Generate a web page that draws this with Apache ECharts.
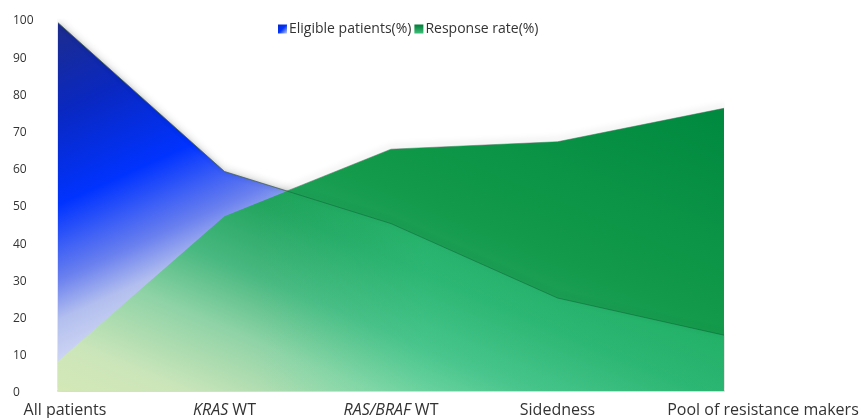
<!DOCTYPE html>
<html>
<head>
<meta charset="utf-8">
<script src="https://cdn.jsdelivr.net/npm/echarts@6/dist/echarts.min.js"></script>
<style>
  html, body { margin: 0; padding: 0; background: #fff; }
  #chart { width: 864px; height: 418px; }
</style>
</head>
<body>
<div id="chart"></div>
<script>
// Patient selection steps along the x axis
const categories = ['All patients', 'KRAS WT', 'RAS/BRAF WT', 'Sidedness', 'Pool of resistance makers'];
// Share of patients still eligible at each step (%)
const eligiblePatients = [99, 59, 45, 25, 15];
// Response rate within the selected group (%)
const responseRate = [8, 47, 65, 67, 76];
// Y axis ticks
const yMin = 0, yMax = 100, yStep = 10;

const FONT = '"Open Sans", Lato, sans-serif';

// Blue area: navy at the top, bright blue in the middle, fading to lavender
const blueFill = new echarts.graphic.LinearGradient(0, 0, 0.25, 1, [
  { offset: 0.00, color: '#1d2c8c' },
  { offset: 0.20, color: '#0a28c0' },
  { offset: 0.41, color: '#0033ff' },
  { offset: 0.58, color: '#6a80ee' },
  { offset: 0.67, color: '#b2beee' },
  { offset: 0.82, color: '#dde3f7' },
  { offset: 1.00, color: '#eef1fb' }
]);
// Green area: pale at the lower left, deep green towards the upper right
const greenFill = new echarts.graphic.LinearGradient(0, 1, 0.36, -1, [
  { offset: 0.00, color: '#d4e8b6' },
  { offset: 0.08, color: '#cbe5ba' },
  { offset: 0.20, color: '#8fd3a6' },
  { offset: 0.30, color: '#48b880' },
  { offset: 0.41, color: '#22a45e' },
  { offset: 0.52, color: '#139a4a' },
  { offset: 0.65, color: '#0b9446' },
  { offset: 0.83, color: '#008a40' },
  { offset: 1.00, color: '#007f3a' }
]);
// Light teal tint laid over everything below the eligible-patients line
const tintFill = new echarts.graphic.LinearGradient(0, 0, 1, 0, [
  { offset: 0.00, color: 'rgba(70,230,170,0)' },
  { offset: 0.30, color: 'rgba(70,230,170,0)' },
  { offset: 0.55, color: 'rgba(70,230,170,0.28)' },
  { offset: 1.00, color: 'rgba(70,230,170,0.28)' }
]);
const blueIcon = new echarts.graphic.LinearGradient(0, 0, 1, 1, [
  { offset: 0, color: '#0a27c4' }, { offset: 0.5, color: '#0033ff' }, { offset: 1, color: '#c8d0f4' }
]);
const greenIcon = new echarts.graphic.LinearGradient(0, 0, 0, 1, [
  { offset: 0, color: '#007a36' }, { offset: 1, color: '#3cc07a' }
]);

// Axis labels: gene names are set in italics
const italicNames = { 'KRAS WT': '{i|KRAS} WT', 'RAS/BRAF WT': '{i|RAS/BRAF} WT' };
const xData = categories.map((c, i) => {
  const item = { value: c };
  if (i === 0) item.textStyle = { padding: [0, 0, 0, 14] };
  if (i === categories.length - 1) item.textStyle = { padding: [0, 0, 0, 78] };
  return item;
});

const edgeShadow = {
  width: 1,
  color: 'rgba(120,120,120,0.6)',
  shadowBlur: 7,
  shadowColor: 'rgba(0,0,0,0.55)',
  shadowOffsetX: 1,
  shadowOffsetY: -2
};

const chart = echarts.init(document.getElementById('chart'), null, { renderer: 'canvas' });
chart.setOption({
  animation: false,
  backgroundColor: '#fff',
  textStyle: { fontFamily: FONT },
  legend: {
    top: 17,
    left: 273,
    icon: 'rect',
    itemWidth: 9,
    itemHeight: 9,
    itemGap: 3,
    textStyle: { fontFamily: FONT, fontSize: 14, color: '#333', padding: [0, 0, 0, -3] },
    data: [
      { name: 'Eligible patients(%)', itemStyle: { color: blueIcon } },
      { name: 'Response rate(%)', itemStyle: { color: greenIcon } }
    ]
  },
  grid: { left: 58, right: 140, top: 19, bottom: 26 },
  xAxis: {
    type: 'category',
    boundaryGap: false,
    data: xData,
    axisLine: { show: true, lineStyle: { color: '#e6e6e6', width: 2 } },
    axisTick: { show: false },
    splitLine: { show: false },
    axisLabel: {
      margin: 11,
      fontFamily: FONT,
      fontSize: 16,
      color: '#333',
      interval: 0,
      formatter: v => italicNames[v] || v,
      rich: { i: { fontFamily: FONT, fontSize: 16, color: '#333', fontStyle: 'italic' } }
    }
  },
  yAxis: {
    type: 'value',
    min: yMin,
    max: yMax,
    interval: yStep,
    axisLine: { show: false },
    axisTick: { show: false },
    splitLine: { show: false },
    axisLabel: {
      align: 'left',
      margin: 45,
      formatter: '{n|{value}}',
      rich: { n: { fontFamily: FONT, fontSize: 12, color: '#333', padding: [4, 0, 0, 0] } }
    }
  },
  series: [
    {
      // soft shadow along the top edge of the response-rate area
      name: 'response-edge',
      type: 'line',
      data: responseRate,
      symbol: 'none',
      silent: true,
      z: 1,
      lineStyle: edgeShadow
    },
    {
      name: 'Eligible patients(%)',
      type: 'line',
      data: eligiblePatients,
      symbol: 'none',
      z: 2,
      itemStyle: { color: blueIcon },
      lineStyle: edgeShadow,
      areaStyle: { color: blueFill, opacity: 1, shadowBlur: 4, shadowColor: 'rgba(0,0,0,0.25)' }
    },
    {
      name: 'Response rate(%)',
      type: 'line',
      data: responseRate,
      symbol: 'none',
      z: 3,
      itemStyle: { color: greenIcon },
      lineStyle: { width: 0 },
      areaStyle: { color: greenFill, opacity: 1 }
    },
    {
      // eligible-patients boundary seen through the response-rate area
      name: 'eligible-edge',
      type: 'line',
      data: eligiblePatients,
      symbol: 'none',
      silent: true,
      z: 4,
      lineStyle: {
        width: 1,
        color: 'rgba(0,70,35,0.35)',
        shadowBlur: 6,
        shadowColor: 'rgba(0,50,25,0.5)',
        shadowOffsetY: -2
      },
      areaStyle: { color: tintFill, opacity: 1 }
    }
  ]
});
</script>
</body>
</html>
